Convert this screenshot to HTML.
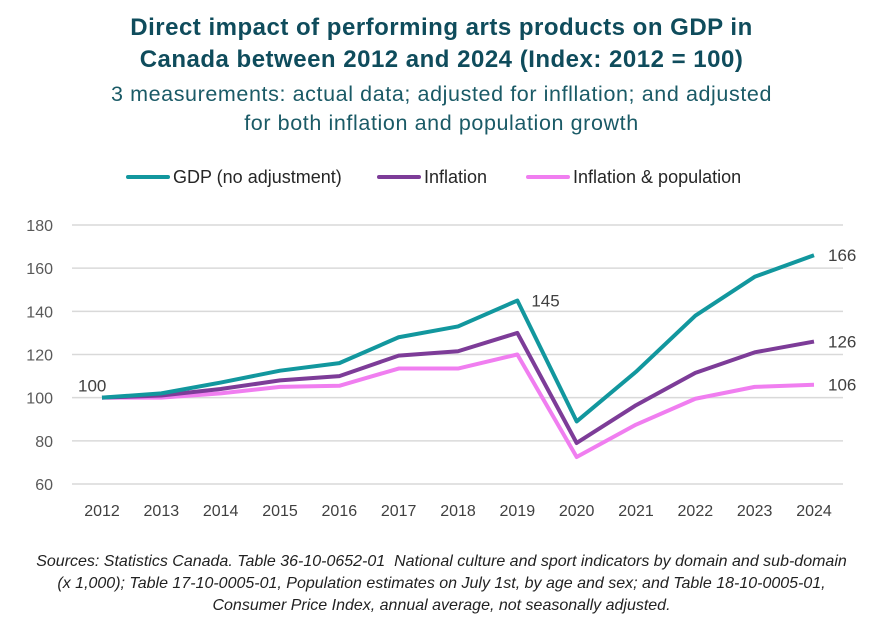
<!DOCTYPE html>
<html><head><meta charset="utf-8">
<style>
body{margin:0;background:#fff;font-family:"Liberation Sans",sans-serif;}
#wrap{position:relative;width:883px;height:634px;overflow:hidden;}
.t{position:absolute;left:0;width:883px;text-align:center;color:#0f4c5c;}
</style></head><body>
<div id="wrap">
<div class="t" style="top:12px;font-size:24px;font-weight:bold;line-height:32px;letter-spacing:0.5px;">Direct impact of performing arts products on GDP in<br>Canada between 2012 and 2024 (Index: 2012 = 100)</div>
<div class="t" style="top:80px;font-size:21.5px;line-height:29px;color:#1a5a66;letter-spacing:0.6px;">3 measurements: actual data; adjusted for infllation; and adjusted<br>for both inflation and population growth</div>
<svg id="svg" width="883" height="634" style="position:absolute;left:0;top:0"></svg>
<div class="t" style="top:551px;font-size:16px;font-style:italic;line-height:22px;color:#222;">Sources: Statistics Canada. Table 36-10-0652-01&nbsp; National culture and sport indicators by domain and sub-domain<br>(x 1,000); Table 17-10-0005-01, Population estimates on July 1st, by age and sex; and Table 18-10-0005-01,<br>Consumer Price Index, annual average, not seasonally adjusted.</div>
</div>
<script>
const years=["2012","2013","2014","2015","2016","2017","2018","2019","2020","2021","2022","2023","2024"];
const gdp=[100,102,107,112.5,116,128,133,145,89,112,138,156,166];
const infl=[100,101,104,108,110,119.5,121.5,130,79,96.5,111.5,121,126];
const pop=[100,100,102,105,105.5,113.5,113.5,120,72.5,87.5,99.5,105,106];
const yTicks=[60,80,100,120,140,160,180];
const NS="http://www.w3.org/2000/svg";
const svg=document.getElementById('svg');
const x=i=>102+i*(814-102)/(years.length-1);
const y=v=>484-(v-60)*(484-225)/120;
function mk(t,a){const e=document.createElementNS(NS,t);for(const k in a)e.setAttribute(k,a[k]);svg.appendChild(e);return e;}
yTicks.forEach(v=>{
 const g=mk('line',{x1:72,x2:843,y1:y(v),y2:y(v),stroke:'#d9d9d9','stroke-width':1.5});
 
 
 const t=mk('text',{x:53,y:y(v)+6,'text-anchor':'end','font-size':16,fill:'#595959'});
 t.textContent=v;
 
 
});
years.forEach((yr,i)=>{
 const t=mk('text',{x:x(i),y:516,'text-anchor':'middle','font-size':16,fill:'#404040'});
 t.textContent=yr;
 
 
});
const series=[[pop,'#f07ef0','inflation-population-line'],[infl,'#7d3c98','inflation-line'],[gdp,'#12979e','gdp-line']];
series.forEach(([d,c,n])=>{
 const p=mk('polyline',{points:d.map((v,i)=>x(i)+','+y(v)).join(' '),fill:'none',stroke:c,'stroke-width':4,'stroke-linejoin':'round'});
 
 
});
function lbl(txt,px,py,anchor){const t=mk('text',{x:px,y:py,'font-size':17,fill:'#404040','text-anchor':anchor||'start'});t.textContent=txt;}
lbl(gdp[0],x(0)-24,y(gdp[0])-6);
lbl(gdp[7],x(7)+14,y(gdp[7])+6);
lbl(gdp[12],x(12)+14,y(gdp[12])+6);
lbl(infl[12],x(12)+14,y(infl[12])+6);
lbl(pop[12],x(12)+14,y(pop[12])+6);
const leg=[['GDP (no adjustment)','#12979e',128],['Inflation','#7d3c98',379],['Inflation & population','#f07ef0',528]];
leg.forEach(([n,c,lx])=>{
 const l=mk('line',{x1:lx,x2:lx+40,y1:177,y2:177,stroke:c,'stroke-width':4,'stroke-linecap':'round'});
 
 
 const t=mk('text',{x:lx+45,y:183,'font-size':18,fill:'#262626'});
 t.textContent=n;
 
 
});
</script>
</body></html>
